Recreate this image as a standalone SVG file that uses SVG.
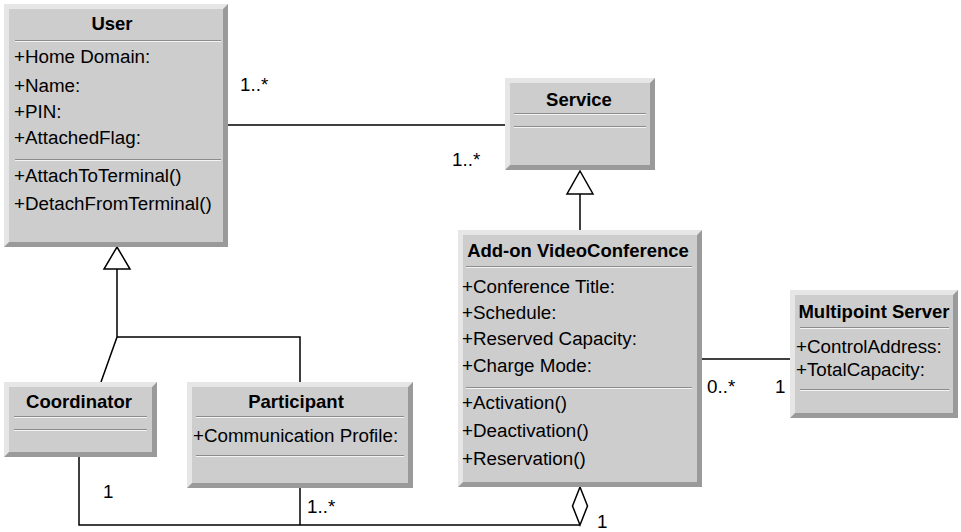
<svg xmlns="http://www.w3.org/2000/svg" width="961" height="532" viewBox="0 0 961 532">
  <style>
    .edge-dark { fill: #9a9a9a; }
    .edge-light { fill: #e6e6e6; }
    .face { fill: #cdcdcd; }
    .sep-dark { stroke: #8c8c8c; stroke-width: 1; }
    .sep-light { stroke: #f4f4f4; stroke-width: 1; }
    text { font-family: "Liberation Sans", Arial, Helvetica, sans-serif; font-size: 18.8px; fill: #000; }
    .title { font-weight: bold; text-anchor: middle; font-size: 18.5px; }
    .conn { fill: none; stroke: #000; stroke-width: 1.5; }
    .head { fill: #fff; stroke: #000; stroke-width: 1.5; stroke-linejoin: miter; }
  </style>

  <!-- connectors -->
  <g id="connectors">
    <!-- User — Service association -->
    <line class="conn" x1="228" y1="125" x2="505" y2="125"/>
    <text x="240" y="91">1..*</text>
    <text x="452" y="166">1..*</text>

    <!-- VideoConference generalizes Service -->
    <line class="conn" x1="580" y1="194" x2="580" y2="230"/>
    <polygon class="head" points="580,171 593,194 567,194"/>

    <!-- Coordinator / Participant generalize User -->
    <polyline class="conn" points="117,269 117,337 101,382"/>
    <polyline class="conn" points="117,337 300,337 300,382"/>
    <polygon class="head" points="117,247 130,269 104,269"/>

    <!-- VideoConference — Multipoint Server -->
    <line class="conn" x1="702" y1="359" x2="790" y2="359"/>
    <text x="707" y="393">0..*</text>
    <text x="775" y="393">1</text>

    <!-- aggregation: VideoConference owns Coordinator and Participants -->
    <polyline class="conn" points="580,525 79,525 79,457"/>
    <line class="conn" x1="300" y1="488" x2="300" y2="525"/>
    <polygon class="head" points="580,487 587.5,506 580,525 572.5,506"/>
    <text x="103" y="498">1</text>
    <text x="307" y="513">1..*</text>
    <text x="597" y="528">1</text>
  </g>

  <!-- User -->
  <g id="user">
    <rect class="edge-dark" x="4" y="4" width="224" height="243"/>
    <polygon class="edge-light" points="4,4 228,4 223,9 9,9 9,242 4,247"/>
    <rect class="face" x="9" y="9" width="214" height="233"/>
    <text class="title" x="112" y="30">User</text>
    <line class="sep-dark" x1="15" y1="40.5" x2="221" y2="40.5"/>
    <line class="sep-light" x1="15" y1="41.5" x2="221" y2="41.5"/>
    <text x="14" y="63">+Home Domain:</text>
    <text x="14" y="92">+Name:</text>
    <text x="14" y="118">+PIN:</text>
    <text x="14" y="144">+AttachedFlag:</text>
    <line class="sep-dark" x1="15" y1="159.5" x2="221" y2="159.5"/>
    <line class="sep-light" x1="15" y1="160.5" x2="221" y2="160.5"/>
    <text x="14" y="182">+AttachToTerminal()</text>
    <text x="14" y="210">+DetachFromTerminal()</text>
  </g>

  <!-- Service -->
  <g id="service">
    <rect class="edge-dark" x="505" y="78" width="150" height="92"/>
    <polygon class="edge-light" points="505,78 655,78 650,83 510,83 510,165 505,170"/>
    <rect class="face" x="510" y="83" width="140" height="82"/>
    <text class="title" x="579" y="106">Service</text>
    <line class="sep-dark" x1="514" y1="113.5" x2="646" y2="113.5"/>
    <line class="sep-light" x1="514" y1="114.5" x2="646" y2="114.5"/>
    <line class="sep-dark" x1="514" y1="126.5" x2="646" y2="126.5"/>
    <line class="sep-light" x1="514" y1="127.5" x2="646" y2="127.5"/>
  </g>

  <!-- Add-on VideoConference -->
  <g id="videoconference">
    <rect class="edge-dark" x="458" y="230" width="244" height="257"/>
    <polygon class="edge-light" points="458,230 702,230 697,235 463,235 463,482 458,487"/>
    <rect class="face" x="463" y="235" width="234" height="247"/>
    <text class="title" x="578" y="257">Add-on VideoConference</text>
    <line class="sep-dark" x1="466" y1="266.5" x2="692" y2="266.5"/>
    <line class="sep-light" x1="466" y1="267.5" x2="692" y2="267.5"/>
    <text x="462" y="293">+Conference Title:</text>
    <text x="462" y="319">+Schedule:</text>
    <text x="462" y="345">+Reserved Capacity:</text>
    <text x="462" y="372">+Charge Mode:</text>
    <line class="sep-dark" x1="466" y1="387.5" x2="692" y2="387.5"/>
    <line class="sep-light" x1="466" y1="388.5" x2="692" y2="388.5"/>
    <text x="462" y="409">+Activation()</text>
    <text x="462" y="437">+Deactivation()</text>
    <text x="462" y="465">+Reservation()</text>
  </g>

  <!-- Multipoint Server -->
  <g id="multipoint-server">
    <rect class="edge-dark" x="790" y="290" width="168" height="128"/>
    <polygon class="edge-light" points="790,290 958,290 953,295 795,295 795,413 790,418"/>
    <rect class="face" x="795" y="295" width="158" height="118"/>
    <text class="title" x="874" y="318">Multipoint Server</text>
    <line class="sep-dark" x1="800" y1="327.5" x2="949" y2="327.5"/>
    <line class="sep-light" x1="800" y1="328.5" x2="949" y2="328.5"/>
    <text x="796" y="353">+ControlAddress:</text>
    <text x="796" y="376">+TotalCapacity:</text>
    <line class="sep-dark" x1="800" y1="389.5" x2="949" y2="389.5"/>
    <line class="sep-light" x1="800" y1="390.5" x2="949" y2="390.5"/>
  </g>

  <!-- Coordinator -->
  <g id="coordinator">
    <rect class="edge-dark" x="4" y="382" width="153" height="75"/>
    <polygon class="edge-light" points="4,382 157,382 152,387 9,387 9,452 4,457"/>
    <rect class="face" x="9" y="387" width="143" height="65"/>
    <text class="title" x="79" y="408">Coordinator</text>
    <line class="sep-dark" x1="14" y1="416.5" x2="147" y2="416.5"/>
    <line class="sep-light" x1="14" y1="417.5" x2="147" y2="417.5"/>
    <line class="sep-dark" x1="14" y1="429.5" x2="147" y2="429.5"/>
    <line class="sep-light" x1="14" y1="430.5" x2="147" y2="430.5"/>
  </g>

  <!-- Participant -->
  <g id="participant">
    <rect class="edge-dark" x="187" y="382" width="226" height="106"/>
    <polygon class="edge-light" points="187,382 413,382 408,387 192,387 192,483 187,488"/>
    <rect class="face" x="192" y="387" width="216" height="96"/>
    <text class="title" x="296" y="408">Participant</text>
    <line class="sep-dark" x1="196" y1="416.5" x2="404" y2="416.5"/>
    <line class="sep-light" x1="196" y1="417.5" x2="404" y2="417.5"/>
    <text x="193" y="442">+Communication Profile:</text>
    <line class="sep-dark" x1="196" y1="455.5" x2="404" y2="455.5"/>
    <line class="sep-light" x1="196" y1="456.5" x2="404" y2="456.5"/>
  </g>
</svg>
